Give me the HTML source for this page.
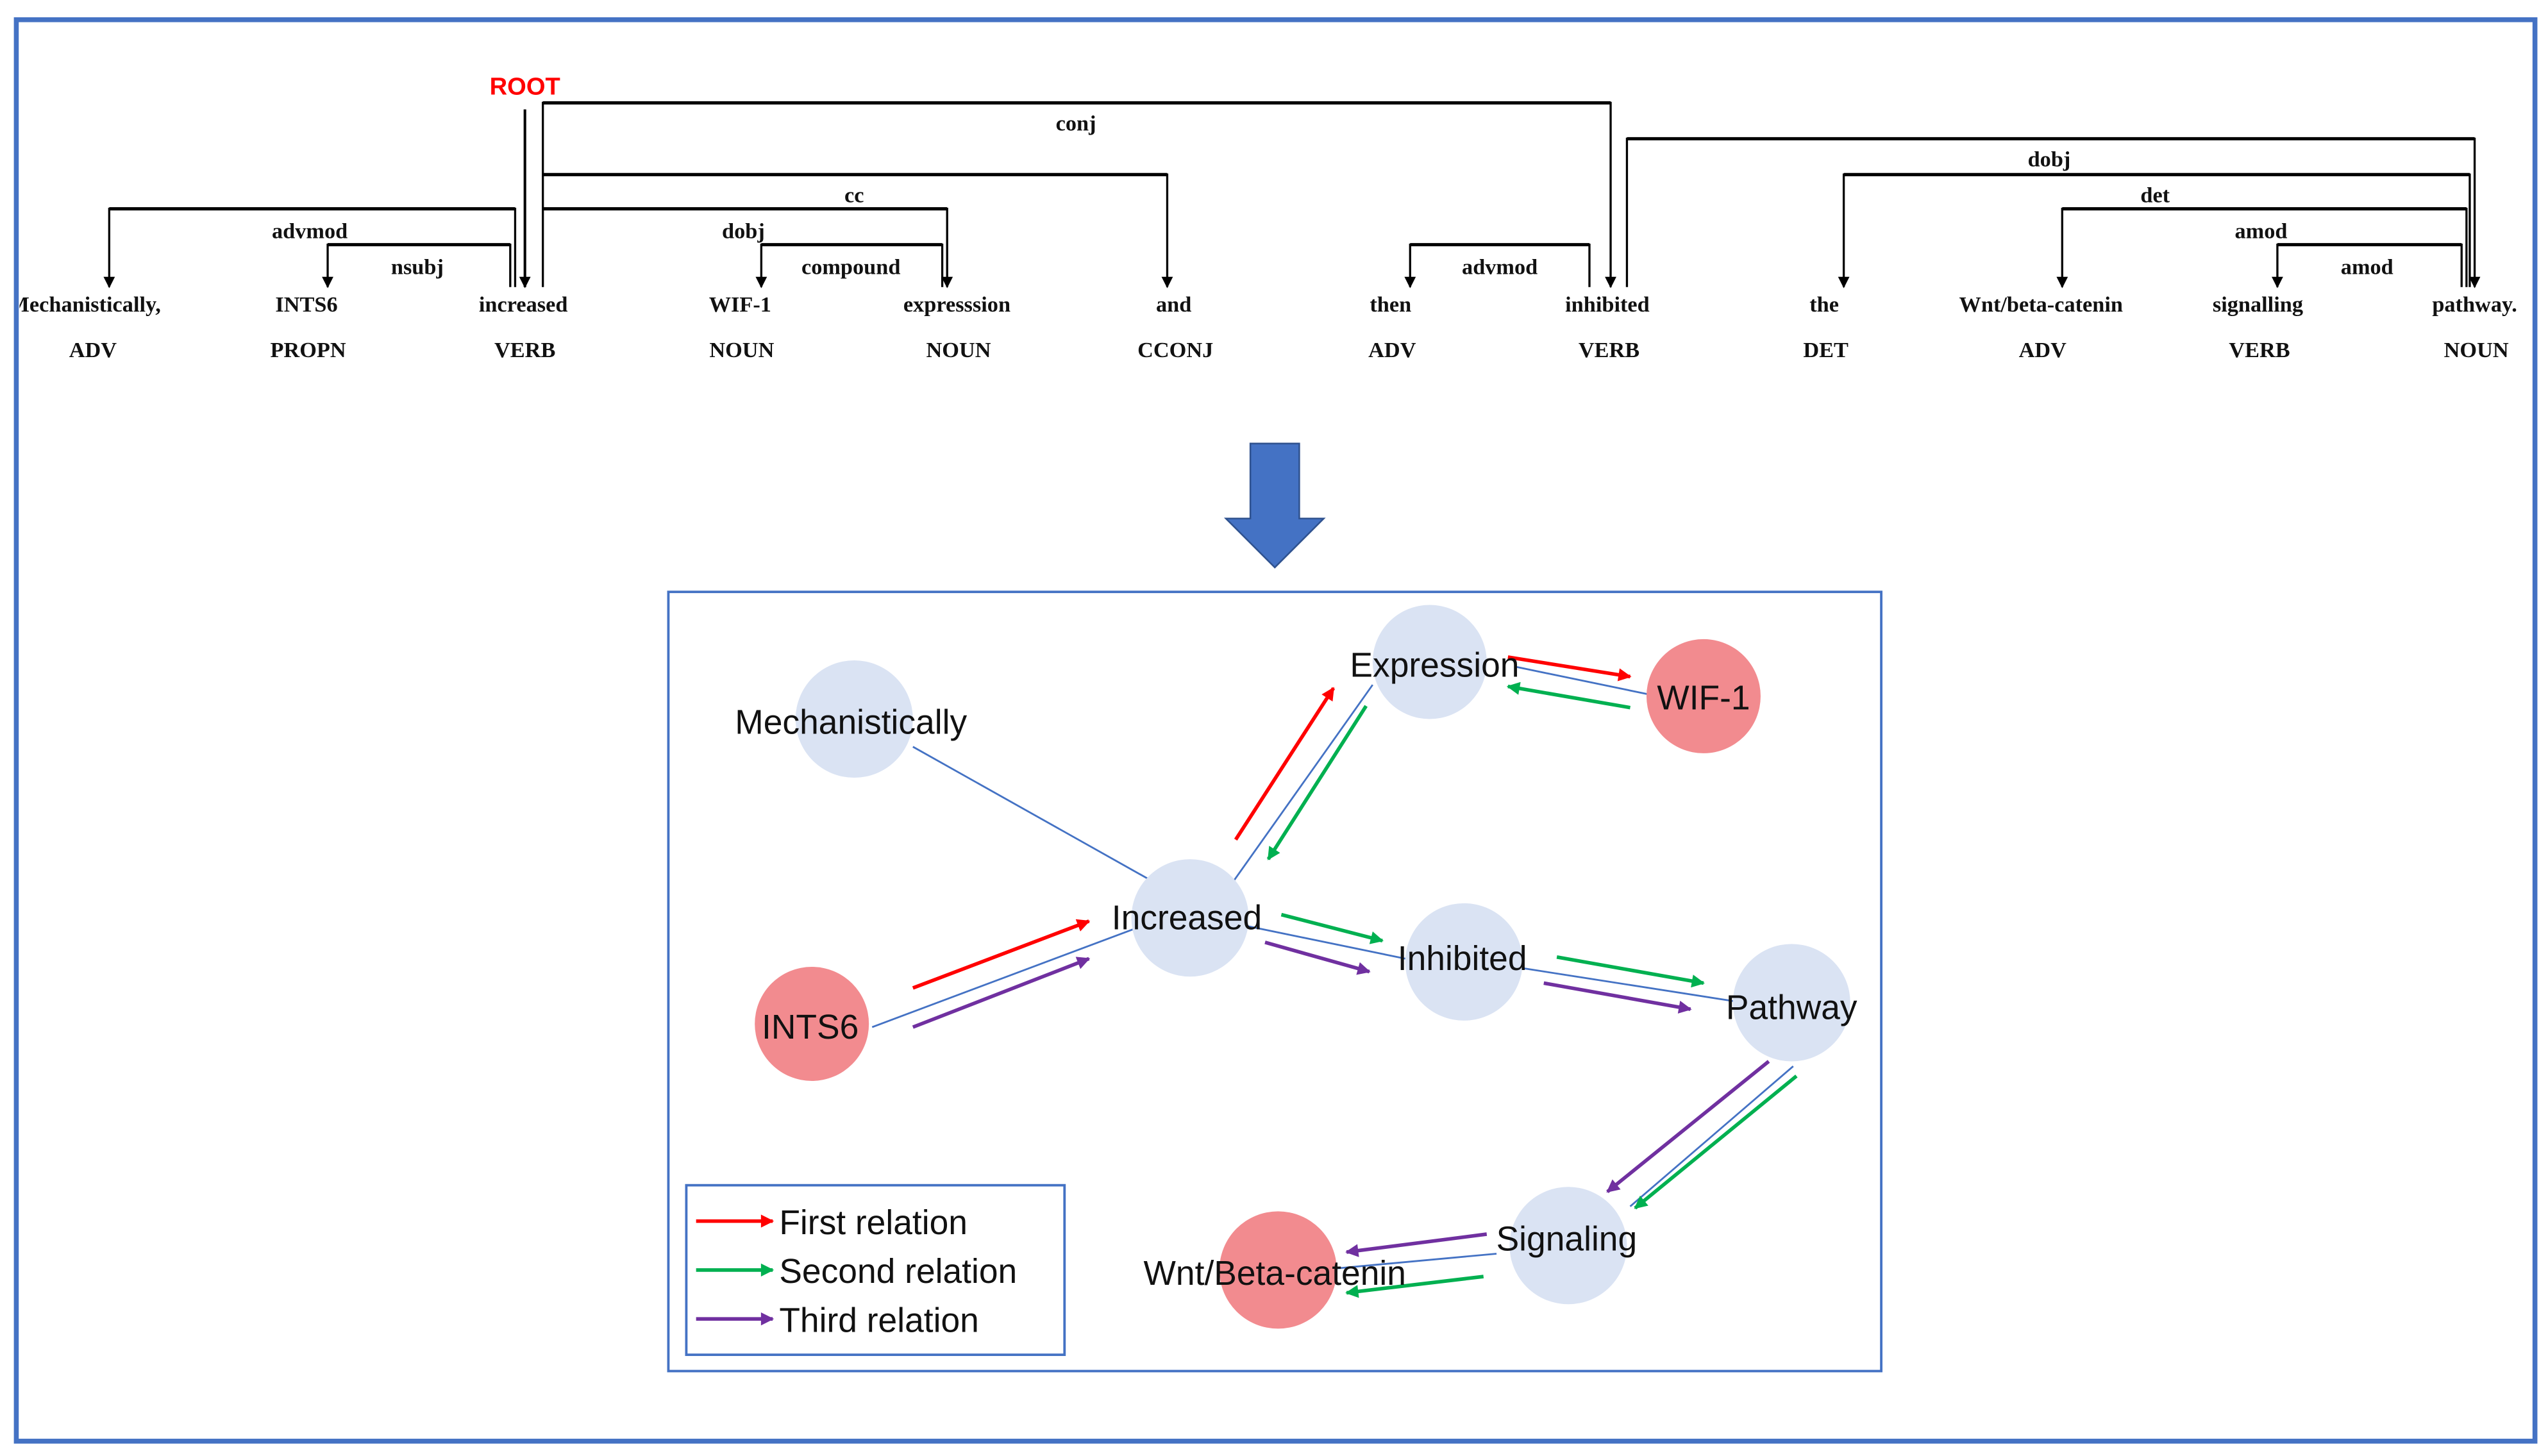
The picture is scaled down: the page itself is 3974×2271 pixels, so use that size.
<!DOCTYPE html>
<html><head><meta charset="utf-8"><style>
html,body{margin:0;padding:0;background:#fff;}
svg{display:block;}
.w{font-family:"Liberation Serif",serif;font-weight:bold;font-size:13.5px;fill:#111;text-anchor:middle;}
.n{font-family:"Liberation Sans",sans-serif;font-size:21px;fill:#111;text-anchor:middle;}
.lg{font-family:"Liberation Sans",sans-serif;font-size:21px;fill:#111;}
</style></head><body>
<svg width="3974" height="2271" viewBox="0 0 1563 893" xmlns="http://www.w3.org/2000/svg">
<defs>
<marker id="ak" viewBox="0 0 10 10" refX="9" refY="5" markerWidth="7" markerHeight="9" markerUnits="userSpaceOnUse" orient="auto"><path d="M0,0 L10,5 L0,10 z" fill="#000"/></marker>
<marker id="ar" viewBox="0 0 10 10" refX="9" refY="5" markerWidth="9" markerHeight="8" markerUnits="userSpaceOnUse" orient="auto"><path d="M0,0 L10,5 L0,10 z" fill="#ff0000"/></marker>
<marker id="ag" viewBox="0 0 10 10" refX="9" refY="5" markerWidth="9" markerHeight="8" markerUnits="userSpaceOnUse" orient="auto"><path d="M0,0 L10,5 L0,10 z" fill="#00b050"/></marker>
<marker id="ap" viewBox="0 0 10 10" refX="9" refY="5" markerWidth="9" markerHeight="8" markerUnits="userSpaceOnUse" orient="auto"><path d="M0,0 L10,5 L0,10 z" fill="#7030a0"/></marker>
<clipPath id="cl"><rect x="12" y="0" width="1540" height="893"/></clipPath>
</defs>
<rect x="10" y="12" width="1545" height="872" fill="#fff" stroke="#4472c4" stroke-width="3"/>

<text x="322" y="58" font-family="Liberation Sans,sans-serif" font-weight="bold" font-size="15" fill="#ff0000" text-anchor="middle">ROOT</text>
<g stroke="#000" fill="none">
<line x1="322" y1="67" x2="322" y2="176" stroke-width="1.6" marker-end="url(#ak)"/>
<polyline points="333,176 333,63 988,63 988,176" stroke-width="1.3" marker-end="url(#ak)"/>
<line x1="333" y1="63" x2="988" y2="63" stroke-width="2"/>
<polyline points="333,107 716,107 716,176" stroke-width="1.3" marker-end="url(#ak)"/>
<line x1="333" y1="107" x2="716" y2="107" stroke-width="2"/>
<polyline points="316,176 316,128 67,128 67,176" stroke-width="1.3" marker-end="url(#ak)"/>
<line x1="316" y1="128" x2="67" y2="128" stroke-width="2"/>
<polyline points="333,128 581,128 581,176" stroke-width="1.3" marker-end="url(#ak)"/>
<line x1="333" y1="128" x2="581" y2="128" stroke-width="2"/>
<polyline points="313,176 313,150 201,150 201,176" stroke-width="1.3" marker-end="url(#ak)"/>
<line x1="313" y1="150" x2="201" y2="150" stroke-width="2"/>
<polyline points="578,176 578,150 467,150 467,176" stroke-width="1.3" marker-end="url(#ak)"/>
<line x1="578" y1="150" x2="467" y2="150" stroke-width="2"/>
<polyline points="975,176 975,150 865,150 865,176" stroke-width="1.3" marker-end="url(#ak)"/>
<line x1="975" y1="150" x2="865" y2="150" stroke-width="2"/>
<polyline points="998,176 998,85 1518,85 1518,176" stroke-width="1.3" marker-end="url(#ak)"/>
<line x1="998" y1="85" x2="1518" y2="85" stroke-width="2"/>
<polyline points="1515,176 1515,107 1131,107 1131,176" stroke-width="1.3" marker-end="url(#ak)"/>
<line x1="1515" y1="107" x2="1131" y2="107" stroke-width="2"/>
<polyline points="1513,176 1513,128 1265,128 1265,176" stroke-width="1.3" marker-end="url(#ak)"/>
<line x1="1513" y1="128" x2="1265" y2="128" stroke-width="2"/>
<polyline points="1510,176 1510,150 1397,150 1397,176" stroke-width="1.3" marker-end="url(#ak)"/>
<line x1="1510" y1="150" x2="1397" y2="150" stroke-width="2"/>
</g>
<g class="w">
<text x="660" y="80">conj</text>
<text x="524" y="124">cc</text>
<text x="190" y="146">advmod</text>
<text x="456" y="146">dobj</text>
<text x="256" y="168">nsubj</text>
<text x="522" y="168">compound</text>
<text x="920" y="168">advmod</text>
<text x="1257" y="102">dobj</text>
<text x="1322" y="124">det</text>
<text x="1387" y="146">amod</text>
<text x="1452" y="168">amod</text>
<g clip-path="url(#cl)"><text x="52" y="191">Mechanistically,</text></g>
<text x="188" y="191">INTS6</text>
<text x="321" y="191">increased</text>
<text x="454" y="191">WIF-1</text>
<text x="587" y="191">expresssion</text>
<text x="720" y="191">and</text>
<text x="853" y="191">then</text>
<text x="986" y="191">inhibited</text>
<text x="1119" y="191">the</text>
<text x="1252" y="191">Wnt/beta-catenin</text>
<text x="1385" y="191">signalling</text>
<text x="1518" y="191">pathway.</text>
<text x="57" y="219">ADV</text>
<text x="189" y="219">PROPN</text>
<text x="322" y="219">VERB</text>
<text x="455" y="219">NOUN</text>
<text x="588" y="219">NOUN</text>
<text x="721" y="219">CCONJ</text>
<text x="854" y="219">ADV</text>
<text x="987" y="219">VERB</text>
<text x="1120" y="219">DET</text>
<text x="1253" y="219">ADV</text>
<text x="1386" y="219">VERB</text>
<text x="1519" y="219">NOUN</text>
</g>

<path d="M767,272 L797,272 L797,318 L812,318 L782,348 L752,318 L767,318 Z" fill="#4472c4" stroke="#2f528f" stroke-width="1"/>

<rect x="410" y="363" width="744" height="478" fill="#fff" stroke="#4472c4" stroke-width="1.5"/>

<g stroke="#4472c4" stroke-width="1.1" fill="none">
<line x1="560" y1="458" x2="706" y2="540"/>
<line x1="757" y1="540" x2="842" y2="420"/>
<line x1="930" y1="409" x2="1012" y2="426"/>
<line x1="765" y1="568" x2="862" y2="588"/>
<line x1="935" y1="594" x2="1063" y2="614"/>
<line x1="535" y1="630" x2="695" y2="570"/>
<line x1="1100" y1="654" x2="1000" y2="740"/>
<line x1="918" y1="769" x2="820" y2="778"/>
</g>

<g fill="#dae3f3">
<circle cx="524" cy="441" r="36"/>
<circle cx="877" cy="406" r="35"/>
<circle cx="730" cy="563" r="36"/>
<circle cx="898" cy="590" r="36"/>
<circle cx="1099" cy="615" r="36"/>
<circle cx="962" cy="764" r="36"/>
</g>
<g fill="#f28b8f">
<circle cx="1045" cy="427" r="35"/>
<circle cx="498" cy="628" r="35"/>
<circle cx="784" cy="779" r="36"/>
</g>

<g stroke-width="2.2" fill="none">
<line x1="560" y1="606" x2="668" y2="565" stroke="#ff0000" marker-end="url(#ar)"/>
<line x1="758" y1="515" x2="818" y2="422" stroke="#ff0000" marker-end="url(#ar)"/>
<line x1="925" y1="403" x2="1000" y2="415" stroke="#ff0000" marker-end="url(#ar)"/>
<line x1="1000" y1="434" x2="925" y2="421" stroke="#00b050" marker-end="url(#ag)"/>
<line x1="838" y1="433" x2="778" y2="527" stroke="#00b050" marker-end="url(#ag)"/>
<line x1="786" y1="561" x2="848" y2="577" stroke="#00b050" marker-end="url(#ag)"/>
<line x1="955" y1="587" x2="1045" y2="603" stroke="#00b050" marker-end="url(#ag)"/>
<line x1="1102" y1="660" x2="1003" y2="741" stroke="#00b050" marker-end="url(#ag)"/>
<line x1="910" y1="783" x2="826" y2="793" stroke="#00b050" marker-end="url(#ag)"/>
<line x1="560" y1="630" x2="668" y2="588" stroke="#7030a0" marker-end="url(#ap)"/>
<line x1="776" y1="578" x2="840" y2="596" stroke="#7030a0" marker-end="url(#ap)"/>
<line x1="947" y1="603" x2="1037" y2="619" stroke="#7030a0" marker-end="url(#ap)"/>
<line x1="1085" y1="651" x2="986" y2="731" stroke="#7030a0" marker-end="url(#ap)"/>
<line x1="912" y1="757" x2="826" y2="768" stroke="#7030a0" marker-end="url(#ap)"/>
</g>

<g class="n">
<text x="522" y="450">Mechanistically</text>
<text x="880" y="415">Expression</text>
<text x="1045" y="435">WIF-1</text>
<text x="728" y="570">Increased</text>
<text x="897" y="595">Inhibited</text>
<text x="497" y="637">INTS6</text>
<text x="1099" y="625">Pathway</text>
<text x="961" y="767">Signaling</text>
<text x="782" y="788">Wnt/Beta-catenin</text>
</g>

<rect x="421" y="727" width="232" height="104" fill="#fff" stroke="#4472c4" stroke-width="1.5"/>
<g stroke-width="2.2">
<line x1="427" y1="749" x2="474" y2="749" stroke="#ff0000" marker-end="url(#ar)"/>
<line x1="427" y1="779" x2="474" y2="779" stroke="#00b050" marker-end="url(#ag)"/>
<line x1="427" y1="809" x2="474" y2="809" stroke="#7030a0" marker-end="url(#ap)"/>
</g>
<text class="lg" x="478" y="757">First relation</text>
<text class="lg" x="478" y="787">Second relation</text>
<text class="lg" x="478" y="817">Third relation</text>
</svg>
</body></html>
